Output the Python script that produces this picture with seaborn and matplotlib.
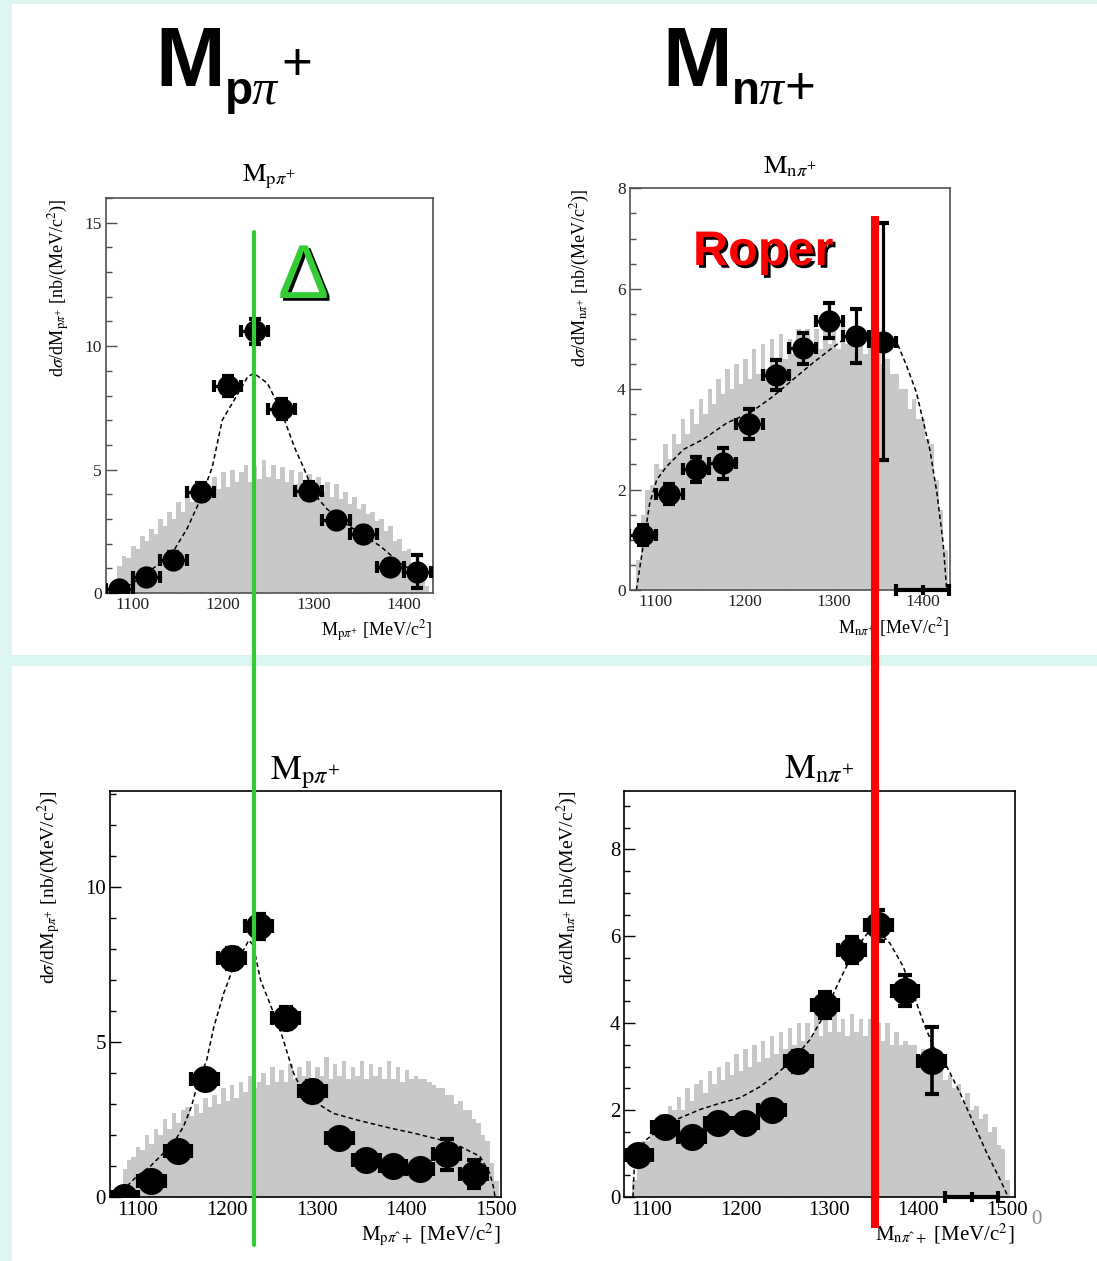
import numpy as np
import pandas as pd
import matplotlib
matplotlib.use("Agg")
import matplotlib.pyplot as plt
import matplotlib.patheffects as pe
from matplotlib.lines import Line2D
from matplotlib.patches import Rectangle
from matplotlib.ticker import MultipleLocator
import seaborn as sns

# ---------------- data ----------------
# data points (bin centres, 30 MeV bins)
TL_X = [1085, 1115, 1145, 1175, 1205, 1235, 1265, 1295, 1325, 1355, 1385, 1415]
TL_Y = [0.16, 0.65, 1.35, 4.10, 8.37, 10.6, 7.45, 4.15, 2.96, 2.38, 1.05, 0.87]
TL_YERR = [0.2, 0.25, 0.3, 0.35, 0.4, 0.5, 0.4, 0.35, 0.3, 0.3, 0.3, 0.65]

TR_X = [1085, 1115, 1145, 1175, 1205, 1235, 1265, 1295, 1325, 1355]
TR_Y = [1.10, 1.91, 2.40, 2.52, 3.31, 4.29, 4.81, 5.36, 5.06, 4.94]
TR_YERR = [0.2, 0.2, 0.25, 0.3, 0.3, 0.3, 0.3, 0.35, 0.53, 2.36]
TR_ZERO_X = [1400]

BL_X = [1085, 1115, 1145, 1175, 1205, 1235, 1265, 1295, 1325, 1355, 1385, 1415, 1445, 1475]
BL_Y = [0.0, 0.50, 1.47, 3.80, 7.69, 8.73, 5.76, 3.43, 1.90, 1.20, 1.01, 0.90, 1.38, 0.75]
BL_YERR = [0.1, 0.2, 0.25, 0.3, 0.35, 0.4, 0.35, 0.3, 0.25, 0.2, 0.2, 0.25, 0.5, 0.45]

BR_X = [1085, 1115, 1145, 1175, 1205, 1235, 1265, 1295, 1325, 1355, 1385, 1415]
BR_Y = [0.97, 1.62, 1.39, 1.70, 1.70, 2.01, 3.12, 4.41, 5.69, 6.25, 4.75, 3.14]
BR_YERR = [0.15, 0.2, 0.2, 0.2, 0.2, 0.2, 0.25, 0.3, 0.3, 0.35, 0.35, 0.77]
BR_ZERO_X = [1460]

# model curves (dashed)
TL_MX = [1078, 1085, 1100, 1115, 1130, 1145, 1160, 1175, 1188, 1199, 1212, 1227, 1234, 1249,
         1264, 1279, 1290, 1301, 1315, 1330, 1352, 1374, 1396, 1418]
TL_MY = [0, 0.1, 0.4, 0.8, 1.2, 1.7, 2.6, 3.8, 5.1, 7.0, 7.8, 8.75, 8.9, 8.5,
         7.4, 5.9, 5.0, 4.0, 3.4, 2.96, 2.4, 1.9, 1.2, 0.75]

TR_MX = [1078, 1086, 1093, 1101, 1112, 1131, 1153, 1180, 1206, 1232, 1254, 1277, 1296, 1311,
         1330, 1348, 1371, 1382, 1393, 1401, 1408, 1416, 1423, 1427]
TR_MY = [0, 0.93, 1.73, 2.2, 2.46, 2.8, 3.0, 3.33, 3.53, 3.86, 4.19, 4.53, 4.79, 4.99,
         5.06, 4.96, 4.93, 4.46, 3.93, 3.33, 2.8, 1.93, 0.93, 0]

BL_MX = [1076, 1099, 1114, 1140, 1151, 1160, 1166, 1177, 1185, 1196, 1207, 1216, 1224, 1229,
         1237, 1246, 1259, 1266, 1274, 1285, 1300, 1318, 1344, 1382, 1408, 1437, 1460, 1482,
         1493, 1497, 1499]
BL_MY = [0, 0.67, 0.99, 1.74, 2.27, 2.92, 3.56, 4.42, 5.49, 6.57, 7.42, 7.85, 8.28, 8.12,
         7.0, 6.35, 5.39, 4.74, 3.99, 3.35, 3.03, 2.70, 2.49, 2.22, 2.06, 1.85, 1.63, 1.31,
         0.77, 0.34, 0]

BR_MX = [1079, 1081, 1094, 1113, 1132, 1154, 1177, 1199, 1222, 1237, 1259, 1278, 1293, 1308,
         1319, 1334, 1346, 1357, 1368, 1383, 1394, 1406, 1417, 1432, 1447, 1462, 1477, 1492, 1501]
BR_MY = [0, 0.97, 1.32, 1.62, 1.82, 2.01, 2.16, 2.28, 2.54, 2.77, 3.16, 3.62, 4.15, 4.84,
         5.30, 5.84, 6.15, 6.07, 5.84, 5.30, 4.69, 4.0, 3.46, 3.0, 2.39, 1.70, 1.01, 0.40, 0]

# phase-space histograms (5 MeV bins starting at 1078 MeV)
TL_PS = [0.4, 1.1, 1.5, 1.4, 1.9, 1.8, 2.3, 2.1, 2.6, 2.4, 3.0, 2.7, 3.3, 3.0, 3.7, 3.3, 4.0, 3.7,
         4.2, 3.8, 4.5, 4.0, 4.7, 4.2, 4.9, 4.3, 5.0, 4.5, 4.9, 5.2, 4.5, 5.1, 4.6, 5.4, 4.7, 5.2,
         4.6, 5.1, 4.5, 5.0, 4.4, 4.9, 4.3, 4.8, 4.2, 4.7, 4.1, 4.5, 3.9, 4.4, 3.8, 4.1, 3.6, 3.9,
         3.4, 3.6, 3.2, 3.3, 2.9, 3.0, 2.5, 2.7, 2.1, 2.2, 1.7, 1.8, 1.2, 1.1, 0.7, 0.3]
TR_PS = [0.6, 1.5, 2.0, 2.1, 2.5, 2.4, 2.9, 2.6, 3.1, 2.9, 3.4, 3.1, 3.6, 3.3, 3.8, 3.5, 4.0, 3.7,
         4.2, 3.9, 4.4, 4.0, 4.5, 4.1, 4.6, 4.2, 4.8, 4.3, 4.9, 4.4, 5.0, 4.5, 5.1, 4.6, 5.0, 4.7,
         5.2, 4.7, 5.2, 4.8, 5.2, 4.8, 5.3, 4.9, 5.2, 4.8, 5.3, 4.9, 5.2, 4.8, 5.1, 4.7, 5.0, 4.6,
         4.9, 4.5, 4.6, 4.3, 4.3, 4.0, 4.0, 3.6, 3.8, 3.4, 3.4, 3.0, 2.9, 2.2, 1.6, 0.8]
BL_PS = [0.3, 0.9, 1.2, 1.3, 1.6, 1.5, 2.0, 1.7, 2.2, 2.0, 2.5, 2.2, 2.7, 2.4, 2.8, 2.9, 2.6, 3.0,
         2.7, 3.2, 2.9, 3.3, 3.0, 3.5, 3.1, 3.6, 3.2, 3.7, 3.4, 3.9, 3.5, 3.7, 4.0, 3.6, 4.2, 3.7,
         4.1, 3.7, 4.3, 3.8, 4.2, 3.9, 4.4, 3.8, 4.2, 3.9, 4.5, 3.8, 4.3, 3.9, 4.4, 3.8, 4.2, 3.9,
         4.4, 3.8, 4.3, 3.9, 4.2, 3.8, 4.4, 3.8, 4.2, 3.7, 4.1, 3.8, 3.9, 3.8, 3.8, 3.7, 3.6, 3.5,
         3.5, 3.3, 3.3, 3.0, 3.1, 2.8, 2.8, 2.5, 2.4, 2.0, 1.8, 1.1, 0.5]
BR_PS = [0.4, 1.0, 1.3, 1.3, 1.6, 1.6, 1.9, 1.7, 2.1, 2.0, 2.3, 2.0, 2.5, 2.2, 2.6, 2.7, 2.4, 2.9,
         2.6, 3.0, 2.7, 3.1, 2.8, 3.3, 2.9, 3.4, 3.0, 3.5, 3.1, 3.6, 3.2, 3.7, 3.3, 3.8, 3.4, 3.9,
         3.5, 4.0, 3.6, 4.0, 3.7, 4.2, 3.7, 4.1, 3.8, 4.2, 3.8, 4.1, 3.7, 4.2, 3.8, 4.1, 3.7, 4.1,
         3.7, 4.0, 3.6, 4.0, 3.5, 3.8, 3.5, 3.6, 3.5, 3.5, 3.3, 3.4, 3.1, 3.3, 2.9, 3.1, 2.7, 2.8,
         2.5, 2.6, 2.2, 2.4, 2.0, 2.1, 1.8, 1.9, 1.5, 1.6, 1.2, 1.1, 0.4]
PS_START = 1078
PS_WIDTH = 5

TL_XTICKS = [1100, 1200, 1300, 1400]
BOT_XTICKS = [1100, 1200, 1300, 1400, 1500]
TL_YTICKS = [0, 5, 10, 15]
TR_YTICKS = [0, 2, 4, 6, 8]
BL_YTICKS = [0, 5, 10]
BR_YTICKS = [0, 2, 4, 6, 8]

# ---------------- style ----------------
sns.set_style("ticks")
plt.rcParams["font.family"] = ["Liberation Serif", "DejaVu Serif"]
plt.rcParams["mathtext.fontset"] = "stix"
plt.rcParams["text.color"] = "black"
plt.rcParams["axes.labelcolor"] = "black"
plt.rcParams["xtick.color"] = "black"
plt.rcParams["ytick.color"] = "black"

W, H = 1097, 1261
MINT = "#dcf5f0"
GRAY = "#c8c8c8"

fig = plt.figure(figsize=(W / 100, H / 100), dpi=100, facecolor=MINT)


def fx(x):
    return x / W


def fy(y):
    return 1 - y / H


# white panels
fig.add_artist(Rectangle((fx(12), fy(655)), (W - 12) / W, (655 - 4) / H,
                         transform=fig.transFigure, facecolor="white", edgecolor="none", zorder=-5))
fig.add_artist(Rectangle((fx(12), fy(H)), (W - 12) / W, (H - 666) / H,
                         transform=fig.transFigure, facecolor="white", edgecolor="none", zorder=-5))


def panel(rect, ps, mx, my, px, py, pyerr, xlim, ylim, xticks, yticks, yminor,
          big, spine_col, msize, tfs, title, xlabel, ylabel, ylpad, xlpad, titlepad, zero_x=None):
    ax = fig.add_axes(rect)
    ax.set_facecolor("white")
    edges = [float(PS_START + PS_WIDTH * i) for i in range(len(ps) + 1)]
    hist_df = pd.DataFrame({"mass": [e + PS_WIDTH / 2 for e in edges[:-1]], "w": ps})
    sns.histplot(data=hist_df, x="mass", weights="w", bins=edges, ax=ax, color=GRAY, alpha=1,
                 element="bars", edgecolor="none", linewidth=0, zorder=1)
    sns.lineplot(x=mx, y=my, ax=ax, color="black", lw=1.1, linestyle=(0, (3, 2)),
                 estimator=None, sort=False, zorder=2)
    ax.errorbar(px, py, xerr=15, yerr=pyerr, fmt="none", ecolor="black",
                elinewidth=2.6 if big else 2.3, capsize=5 if big else 4.5, capthick=3, zorder=3)
    sns.scatterplot(x=px, y=py, ax=ax, s=msize ** 2, color="black", edgecolor="black",
                    linewidth=0, zorder=4)
    if zero_x is not None:
        ax.errorbar(zero_x, [0] * len(zero_x), xerr=30, fmt="|", color="black", ms=7, mew=3,
                    elinewidth=3, capsize=4.5, capthick=3, zorder=4, clip_on=False)
    ax.set_xlim(*xlim)
    ax.set_ylim(*ylim)
    ax.set_xticks(xticks)
    ax.set_yticks(yticks)
    ax.xaxis.set_minor_locator(MultipleLocator(50))
    ax.yaxis.set_minor_locator(MultipleLocator(yminor))
    ax.tick_params(which="both", direction="in", top=False, right=False,
                   labelsize=tfs, color=spine_col, labelcolor="#222222" if not big else "black", pad=3)
    ax.tick_params(which="major", length=8, width=1)
    ax.tick_params(which="minor", length=4, width=1)
    for s in ax.spines.values():
        s.set_color(spine_col)
        s.set_linewidth(1.2)
    ax.set_xlabel(xlabel, loc="right", fontsize=15 if big else 13, labelpad=xlpad)
    ax.set_ylabel(ylabel, loc="top", fontsize=14 if big else 13, labelpad=ylpad)
    ax.set_title(title, fontsize=25 if big else 19, pad=titlepad)
    return ax


ylab_p = r"d$\sigma$/dM$_{\mathrm{p}\pi^{+}}$ [nb/(MeV/c$^{2}$)]"
ylab_n = r"d$\sigma$/dM$_{\mathrm{n}\pi^{+}}$ [nb/(MeV/c$^{2}$)]"
tit_p = r"$\mathrm{M}_{\mathrm{p}\pi^{+}}$"
tit_n = r"$\mathrm{M}_{\mathrm{n}\pi^{+}}$"

ax_tl = panel([fx(105.7), fy(593), 327 / W, 395 / H], TL_PS, TL_MX, TL_MY, TL_X, TL_Y, TL_YERR,
              (1070, 1432), (0, 16), TL_XTICKS, TL_YTICKS, 1, False, "#505050", 16, 12.5,
              tit_p, r"M$_{\mathrm{p}\pi^{+}}$ [MeV/c$^{2}$]", ylab_p, 9, 4, 12)
ax_tr = panel([fx(630), fy(590), 320 / W, 401.7 / H], TR_PS, TR_MX, TR_MY, TR_X, TR_Y, TR_YERR,
              (1070.8, 1430.7), (0, 8), TL_XTICKS, TR_YTICKS, 0.5, False, "#505050", 16, 12.5,
              tit_n, r"M$_{\mathrm{n}\pi^{+}}$ [MeV/c$^{2}$]", ylab_n, 18, 4, 11, zero_x=TR_ZERO_X)
ax_bl = panel([fx(110), fy(1197), 391 / W, 406.3 / H], BL_PS, BL_MX, BL_MY, BL_X, BL_Y, BL_YERR,
              (1069, 1505.6), (0, 13.1), BOT_XTICKS, BL_YTICKS, 1, True, "black", 19.5, 15,
              tit_p, r"M$_{\mathrm{p}\pi\mathrm{ˆ}+}$ [MeV/c$^{2}$]", ylab_p, 16, 1, 6)
ax_br = panel([fx(624.3), fy(1197), 390.7 / W, 406.3 / H], BR_PS, BR_MX, BR_MY, BR_X, BR_Y, BR_YERR,
              (1069.2, 1508.7), (0, 9.35), BOT_XTICKS, BR_YTICKS, 0.5, True, "black", 19.5, 15,
              tit_n, r"M$_{\mathrm{n}\pi\mathrm{ˆ}+}$ [MeV/c$^{2}$]", ylab_n, 21, 1, 9, zero_x=BR_ZERO_X)

# ghost "0" after 1500
fig.text(fx(1036), fy(1220), "0", fontsize=15, color="#8a8a8a", ha="center", va="center")

# big headers
SANS = ["Liberation Sans", "DejaVu Sans"]
for (x0, sub, sup_plus) in [(155, "p", True), (662, "n", False)]:
    fig.text(fx(x0), fy(86), "M", fontsize=60, weight="bold", family=SANS, va="baseline",
             ha="left", color="black")
    fig.text(fx(x0 + 70), fy(104), sub, fontsize=33, weight="bold", family=SANS, va="baseline",
             ha="left", color="black")
    fig.text(fx(x0 + 97), fy(104), "π", fontsize=36, style="italic", family=["Liberation Serif"],
             va="baseline", ha="left", color="black")
    if sup_plus:
        fig.text(fx(x0 + 126), fy(80), "+", fontsize=38, family=SANS, va="baseline", ha="left",
                 color="black")
    else:
        fig.text(fx(x0 + 122), fy(104), "+", fontsize=38, family=SANS, va="baseline", ha="left",
                 color="black")

# resonance markers
shadow = [pe.SimplePatchShadow(offset=(2, -2), shadow_rgbFace="black", alpha=1), pe.Normal()]
fig.text(fx(278), fy(298), "Δ", fontsize=55, family=SANS, color="#33cc33", va="baseline",
         ha="left", path_effects=shadow)
fig.text(fx(693), fy(265), "Roper", fontsize=35, weight="bold", family=SANS, color="#ff0000",
         va="baseline", ha="left", path_effects=shadow)

fig.add_artist(Line2D([fx(254), fx(254)], [fy(232), fy(1245)], transform=fig.transFigure,
                      color="#33cc33", lw=3.0, zorder=10))
fig.add_artist(Line2D([fx(875), fx(875)], [fy(216), fy(1228)], transform=fig.transFigure,
                      color="#ff0000", lw=5.8, zorder=10, solid_capstyle="butt"))

fig.savefig("out.png", dpi=100, facecolor=MINT)
